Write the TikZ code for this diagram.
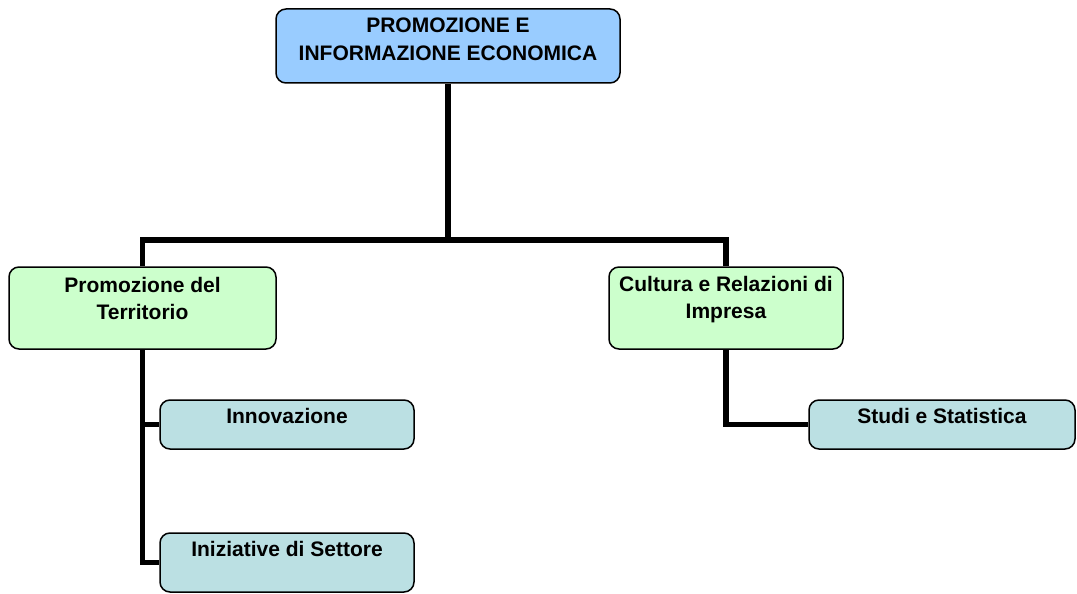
\documentclass[tikz,border=0pt]{standalone}
\usepackage{fontspec}
\setmainfont{Liberation Sans}
\definecolor{topblue}{HTML}{99CCFF}
\definecolor{midgreen}{HTML}{CCFFCC}
\definecolor{lowteal}{HTML}{BBE0E3}
\begin{document}
\begin{tikzpicture}[x=1pt,y=-1pt,
  box/.style={draw=black, line width=1.5pt, rounded corners=10pt, inner sep=0pt},
  lbl/.style={anchor=north, inner sep=0pt, align=center, font=\bfseries\fontsize{21}{27.5}\selectfont},
  conn/.style={draw=black, line width=5.5pt, line join=miter}]
\useasboundingbox (0,0) rectangle (1077,594);
% boxes
\node[box, fill=topblue, minimum width=344, minimum height=74] (top) at (448,46) {};
\node[box, fill=midgreen, minimum width=267, minimum height=82] (promo) at (142.5,308) {};
\node[box, fill=midgreen, minimum width=234, minimum height=82] (cult) at (726,308) {};
\node[box, fill=lowteal, minimum width=254, minimum height=49] (innov) at (287,424.5) {};
\node[box, fill=lowteal, minimum width=254, minimum height=59] (iniz) at (287,562.5) {};
\node[box, fill=lowteal, minimum width=266, minimum height=49] (stud) at (942,424.5) {};
% connectors
\coordinate (j) at (448,240);
\path[conn] (top.south) -- (j);
\path[conn] (promo.north) -- (promo.north |- j) -- (cult.north |- j) -- (cult.north);
\path[conn] (promo.south) |- (innov.west);
\path[conn] (promo.south) |- (iniz.west);
\path[conn] (cult.south) |- (stud.west);
% labels
\node[lbl] (ltop) at (448,18) {PROMOZIONE E\\INFORMAZIONE ECONOMICA};
\node[lbl] (lpromo) at (142.5,277) {Promozione del\\Territorio};
\node[lbl] (lcult) at (726,276) {Cultura e Relazioni di\\Impresa};
\node[lbl] (linnov) at (287,408) {Innovazione};
\node[lbl] (liniz) at (287,541) {Iniziative di Settore};
\node[lbl] (lstud) at (942,408) {Studi e Statistica};
\end{tikzpicture}
\end{document}
